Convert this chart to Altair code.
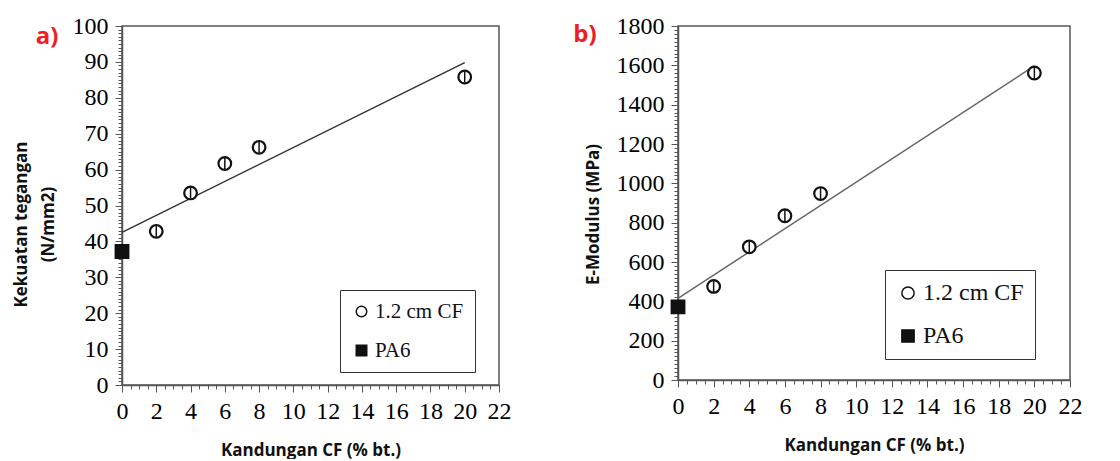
import altair as alt
import pandas as pd

# ---- data ----
series_names = ["1.2 cm CF", "PA6"]
cf_content = [2, 4, 6, 8, 20]
pa6_content = [0]
fit_content = [0, 20]

tensile = [42.8, 53.5, 61.7, 66.2, 85.8]
tensile_err = [1.5, 1.5, 1.5, 1.5, 1.5]
pa6_tensile = [37.2]
fit_tensile = [42.5, 89.8]

modulus = [476, 677, 835, 948, 1561]
modulus_err = [30, 30, 30, 30, 30]
pa6_modulus = [372]
fit_modulus = [415, 1597]

x_major = list(range(0, 23, 2))
x_minor = [i * 0.5 for i in range(45)]
ya_major = list(range(0, 101, 10))
ya_minor = list(range(0, 101, 1))
yb_major = list(range(0, 1801, 200))
yb_minor = list(range(0, 1801, 20))

SERIF = "Liberation Serif"
SANS = "Open Sans"
AXIS_COL = "#555555"


def panel(letter, yvals, yerr, pa6y, fity, ymax, ymajor, yminor, ytitle, w, h,
          leg_x, leg_y, lab_x, lab_y, title_x, title_y, leg_font, leg_sym, leg_row, line_col):
    pts = pd.DataFrame({
        "x": cf_content + pa6_content,
        "y": yvals + pa6y,
        "series": [series_names[0]] * len(cf_content) + [series_names[1]] * len(pa6_content),
    })
    err = pd.DataFrame({
        "x": cf_content,
        "lo": [v - e for v, e in zip(yvals, yerr)],
        "hi": [v + e for v, e in zip(yvals, yerr)],
    })
    fit = pd.DataFrame({"x": fit_content, "y": fity})

    xscale = alt.Scale(domain=[0, 22], nice=False, zero=False)
    yscale = alt.Scale(domain=[0, ymax], nice=False)

    xaxis = alt.Axis(
        orient="bottom", values=x_major, tickCount=1000, grid=False, title="Kandungan CF (% bt.)",
        tickSize=7, labelFlush=False, labelOverlap=False, labelPadding=7, format="d",
        labelFont=SERIF, labelFontSize=24, labelColor="#000", titlePadding=19,
    )
    yaxis = alt.Axis(
        orient="left", values=ymajor, tickCount=1000, grid=False, title=ytitle,
        tickSize=7, labelFlush=False, labelOverlap=False, labelPadding=7, format="d",
        labelFont=SERIF, labelFontSize=24, labelColor="#000",
        titleLineHeight=27, titleX=title_x, titleY=title_y,
    )
    xaxis_minor = alt.Axis(
        orient="bottom", values=x_minor, tickCount=1000, grid=False, title=None,
        labels=False, tickSize=4, domain=False,
    )
    yaxis_minor = alt.Axis(
        orient="left", values=yminor, tickCount=1000, grid=False, title=None,
        labels=False, tickSize=4, domain=False,
    )

    legend = alt.Legend(
        title=None, orient="none", legendX=leg_x, legendY=leg_y,
        strokeColor="#333", fillColor="white", padding=11,
        labelFont=SERIF, labelFontSize=leg_font, labelColor="#111",
        symbolSize=leg_sym, symbolStrokeWidth=1.5,
        rowPadding=leg_row, labelOffset=3, labelLimit=300,
    )
    sc_shape = alt.Scale(domain=series_names, range=["circle", "square"])
    sc_fill = alt.Scale(domain=series_names, range=["white", "#111"])
    sc_stroke = alt.Scale(domain=series_names, range=["#111", "#111"])

    minor = alt.Chart(fit).mark_line(opacity=0).encode(
        x=alt.X("x:Q", scale=xscale, axis=xaxis_minor),
        y=alt.Y("y:Q", scale=yscale, axis=yaxis_minor),
    )
    line = alt.Chart(fit).mark_line(color=line_col, strokeWidth=1.5).encode(
        x=alt.X("x:Q", scale=xscale, axis=xaxis),
        y=alt.Y("y:Q", scale=yscale, axis=yaxis),
    )
    points = alt.Chart(pts).mark_point(opacity=1, strokeWidth=2.2, size=160).encode(
        x=alt.X("x:Q", axis=None),
        y=alt.Y("y:Q", axis=None),
        shape=alt.Shape("series:N", scale=sc_shape, legend=legend),
        fill=alt.Fill("series:N", scale=sc_fill, legend=legend),
        stroke=alt.Stroke("series:N", scale=sc_stroke, legend=legend),
    )
    bars = alt.Chart(err).mark_rule(color="#111", strokeWidth=1.5).encode(
        x=alt.X("x:Q", axis=None), y=alt.Y("lo:Q", axis=None), y2="hi:Q",
    )
    label = alt.Chart(pd.DataFrame({"t": [letter]})).mark_text(
        color="#ee1c25", font=SANS, fontSize=24, fontWeight="bold", align="center", baseline="middle"
    ).encode(text="t:N", x=alt.value(lab_x), y=alt.value(lab_y))

    return alt.layer(minor, line, points, bars, label).resolve_axis(
        x="independent", y="independent"
    ).properties(width=w, height=h)


pa = panel("a)", tensile, tensile_err, pa6_tensile, fit_tensile, 100, ya_major, ya_minor,
           ["Kekuatan tegangan", "(N/mm2)"], 377, 359, 218, 264, -75, 11, -92, 198,
           21, 110, 17, "#333")
pb = panel("b)", modulus, modulus_err, pa6_modulus, fit_modulus, 1800, yb_major, yb_minor,
           "E-Modulus (MPa)", 392, 354, 207, 244, -93, 9, -76, 188,
           24, 150, 19, "#666")

chart = alt.hconcat(pa, pb, spacing=179, bounds="flush").resolve_scale(
    x="independent", y="independent", shape="independent", fill="independent", stroke="independent"
).resolve_legend(shape="independent", fill="independent", stroke="independent").configure_view(
    stroke=AXIS_COL, strokeWidth=1.5
).configure_axis(
    labelFont=SERIF, labelFontSize=24, labelColor="#000",
    titleFont=SANS, titleFontSize=17, titleFontWeight="bold", titleColor="#111",
    domainColor=AXIS_COL, tickColor=AXIS_COL, domainWidth=1.5,
).properties(padding={"left": 3, "top": 5, "right": 5, "bottom": 0})

chart.save("out.html", embed_options={"renderer": "svg", "actions": False})
